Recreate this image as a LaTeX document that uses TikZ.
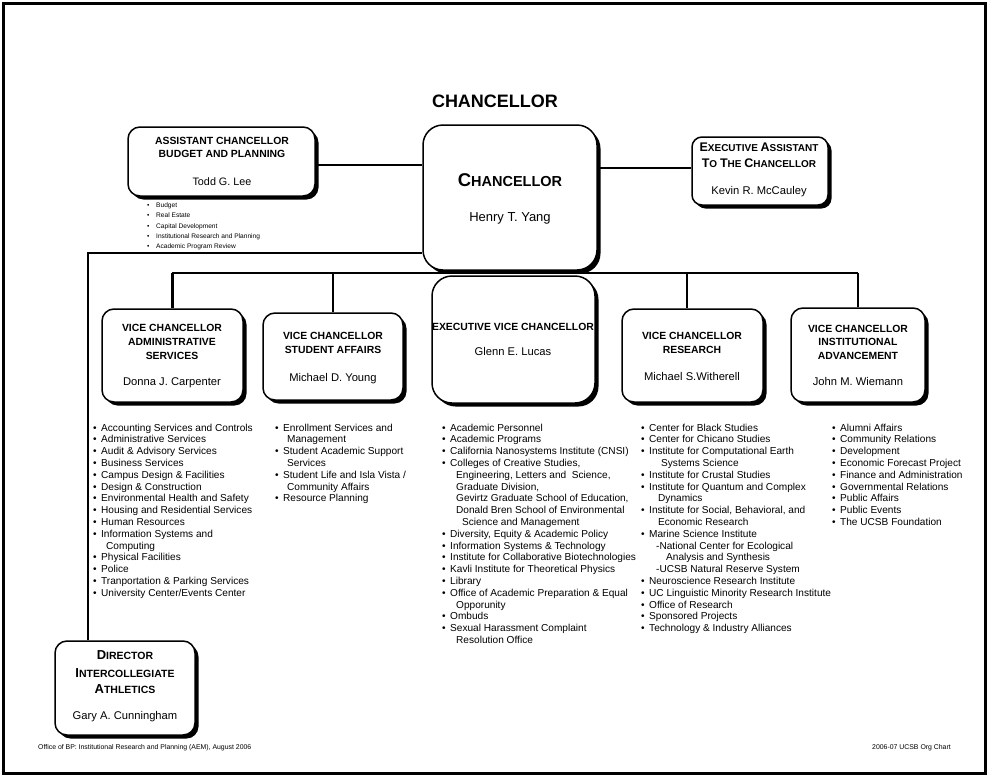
\documentclass[tikz,border=0pt]{standalone}
\usepackage{fontspec}
\setmainfont{Liberation Sans}
\usetikzlibrary{shadows}
\newcommand{\lbul}[1][8pt]{\makebox[#1][l]{\textbullet}}
\newcommand{\lind}[1]{\hspace*{#1}}
\tikzset{
 box/.style={draw, line width=1.5pt, fill=white, rounded corners=12pt, inner sep=0pt,
   drop shadow={shadow xshift=3.5pt, shadow yshift=-3.5pt, fill=black, opacity=1}},
 conn/.style={line width=2.8pt},
 ttl/.style={font=\fontsize{10.4}{13.8}\selectfont\bfseries, align=center, inner sep=0pt, anchor=north},
 ttlb/.style={font=\bfseries, inner sep=0pt, anchor=base},
 nm/.style={font=\fontsize{11.2}{13}\selectfont, inner sep=0pt, anchor=base},
 lst/.style={font=\fontsize{10.1}{11.8}\selectfont, align=left, inner sep=0pt, anchor=north west},
 foot/.style={font=\fontsize{6.9}{7.5}\selectfont, inner sep=0pt},
}
\begin{document}
\begin{tikzpicture}[x=1pt,y=-1pt]
\useasboundingbox (0,0) rectangle (989,777);
\draw[line width=3pt] (3.5,3.5) rectangle (985.5,773.5);

% main title
\node[ttlb, font=\fontsize{18}{20}\selectfont\bfseries] (maintitle) at (495,107.5) {CHANCELLOR};

% connector coordinates
\coordinate (busL) at (172,273);
\coordinate (busR) at (858,273);
\coordinate (resT) at (687,273);
\coordinate (ac) at (0,165);
\coordinate (ce) at (0,168);
\coordinate (dc) at (88,253);

% boxes
\node[box, minimum width=187pt, minimum height=69pt] (asst) at (221.5,161.5) {};
\node[box, rounded corners=20pt, minimum width=174pt, minimum height=145pt] (chan) at (510,197.5) {};
\node[box, rounded corners=10pt, minimum width=136pt, minimum height=68pt] (exec) at (760,171) {};
\node[box, minimum width=141pt, minimum height=93pt] (admin) at (172.5,355.5) {};
\node[box, minimum width=140pt, minimum height=87pt] (stud) at (333,356.5) {};
\node[box, rounded corners=20pt, minimum width=163pt, minimum height=127pt] (evc) at (513.5,339.5) {};
\node[box, minimum width=141pt, minimum height=93pt] (res) at (692.5,355.5) {};
\node[box, minimum width=134pt, minimum height=94pt] (inst) at (858,355) {};
\node[box, minimum width=140pt, minimum height=94pt] (dir) at (125,688) {};

% connectors
\draw[conn] (busL) -- (busR);
\draw[conn] (admin.north) -- (admin.north |- busL);
\draw[conn] (stud.north) -- (stud.north |- busL);
\draw[conn] (resT) -- (resT |- res.north);
\draw[conn] (inst.north) -- (inst.north |- busR);
\draw[conn] (asst.east |- ac) -- (chan.west |- ac);
\draw[conn] (chan.east |- ce) -- (exec.west |- ce);
\draw[conn] (chan.west |- dc) -- (dc) -- (dc |- dir.north);

% box texts
\node[ttl, font=\fontsize{10.4}{12.4}\selectfont\bfseries] (asstT) at (222,137.3) {ASSISTANT CHANCELLOR\\BUDGET AND PLANNING};
\node[nm, font=\fontsize{10.8}{13}\selectfont] (asstN) at (222,185.8) {Todd G. Lee};

\node[ttlb] (chanT) at (510,186) {\fontsize{18.5}{20}\selectfont C\fontsize{14.5}{16}\selectfont HANCELLOR};
\node[nm, font=\fontsize{13}{15}\selectfont] (chanN) at (510,221.7) {Henry T. Yang};

\node[ttlb] (execT1) at (759,151) {\fontsize{12.5}{14}\selectfont E\fontsize{10}{12}\selectfont XECUTIVE \fontsize{12.5}{14}\selectfont A\fontsize{10}{12}\selectfont SSISTANT};
\node[ttlb] (execT2) at (759,167) {\fontsize{12.5}{14}\selectfont T\fontsize{10}{12}\selectfont O \fontsize{12.5}{14}\selectfont T\fontsize{10}{12}\selectfont HE \fontsize{12.5}{14}\selectfont C\fontsize{10}{12}\selectfont HANCELLOR};
\node[nm] (execN) at (759,194) {Kevin R. McCauley};

\node[ttl] (adminT) at (172,324.3) {VICE CHANCELLOR\\ADMINISTRATIVE\\SERVICES};
\node[nm] (adminN) at (172,385.5) {Donna J. Carpenter};

\node[ttl] (studT) at (333,332.3) {VICE CHANCELLOR\\STUDENT AFFAIRS};
\node[nm] (studN) at (333,381) {Michael D. Young};

\node[ttlb, font=\fontsize{10.4}{12}\selectfont\bfseries] (evcT) at (513,330.5) {EXECUTIVE VICE CHANCELLOR};
\node[nm] (evcN) at (513,355.5) {Glenn E. Lucas};

\node[ttl] (resT2) at (692,332.3) {VICE CHANCELLOR\\RESEARCH};
\node[nm] (resN) at (692,380.5) {Michael S.Witherell};

\node[ttl] (instT) at (858,324.6) {VICE CHANCELLOR\\INSTITUTIONAL\\ADVANCEMENT};
\node[nm] (instN) at (858,385.7) {John M. Wiemann};

\node[ttlb] (dirT1) at (125,659) {\fontsize{13}{14}\selectfont D\fontsize{10.5}{12}\selectfont IRECTOR};
\node[ttlb] (dirT2) at (125,677) {\fontsize{13}{14}\selectfont I\fontsize{10.5}{12}\selectfont NTERCOLLEGIATE};
\node[ttlb] (dirT3) at (125,693) {\fontsize{13}{14}\selectfont A\fontsize{10.5}{12}\selectfont THLETICS};
\node[nm] (dirN) at (125,719) {Gary A. Cunningham};

% lists
\node[lst, font=\fontsize{6.6}{10.3}\selectfont] (asstL) at (147,202.6) {%
\lbul[9pt]Budget\\
\lbul[9pt]Real Estate\\
\lbul[9pt]Capital Development\\
\lbul[9pt]Institutional Research and Planning\\
\lbul[9pt]Academic Program Review};

\node[lst] (adminL) at (93,423.5) {%
\lbul Accounting Services and Controls\\
\lbul Administrative Services\\
\lbul Audit \& Advisory Services\\
\lbul Business Services\\
\lbul Campus Design \& Facilities\\
\lbul Design \& Construction\\
\lbul Environmental Health and Safety\\
\lbul Housing and Residential Services\\
\lbul Human Resources\\
\lbul Information Systems and\\
\lind{13pt}Computing\\
\lbul Physical Facilities\\
\lbul Police\\
\lbul Tranportation \& Parking Services\\
\lbul University Center/Events Center};

\node[lst] (studL) at (275,423.5) {%
\lbul Enrollment Services and\\
\lind{12pt}Management\\
\lbul Student Academic Support\\
\lind{12pt}Services\\
\lbul Student Life and Isla Vista /\\
\lind{12pt}Community Affairs\\
\lbul Resource Planning};

\node[lst] (evcL) at (442,423.5) {%
\lbul Academic Personnel\\
\lbul Academic Programs\\
\lbul California Nanosystems Institute (CNSI)\\
\lbul Colleges of Creative Studies,\\
\lind{14pt}Engineering, Letters and\ \ Science,\\
\lind{14pt}Graduate Division,\\
\lind{14pt}Gevirtz Graduate School of Education,\\
\lind{14pt}Donald Bren School of Environmental\\
\lind{20pt}Science and Management\\
\lbul Diversity, Equity \& Academic Policy\\
\lbul Information Systems \& Technology\\
\lbul Institute for Collaborative Biotechnologies\\
\lbul Kavli Institute for Theoretical Physics\\
\lbul Library\\
\lbul Office of Academic Preparation \& Equal\\
\lind{14pt}Opporunity\\
\lbul Ombuds\\
\lbul Sexual Harassment Complaint\\
\lind{14pt}Resolution Office};

\node[lst] (resL) at (641,423.5) {%
\lbul Center for Black Studies\\
\lbul Center for Chicano Studies\\
\lbul Institute for Computational Earth\\
\lind{20pt}Systems Science\\
\lbul Institute for Crustal Studies\\
\lbul Institute for Quantum and Complex\\
\lind{17pt}Dynamics\\
\lbul Institute for Social, Behavioral, and\\
\lind{17pt}Economic Research\\
\lbul Marine Science Institute\\
\lind{15pt}-National Center for Ecological\\
\lind{25pt}Analysis and Synthesis\\
\lind{15pt}-UCSB Natural Reserve System\\
\lbul Neuroscience Research Institute\\
\lbul UC Linguistic Minority Research Institute\\
\lbul Office of Research\\
\lbul Sponsored Projects\\
\lbul Technology \& Industry Alliances};

\node[lst] (instL) at (832,423.5) {%
\lbul Alumni Affairs\\
\lbul Community Relations\\
\lbul Development\\
\lbul Economic Forecast Project\\
\lbul Finance and Administration\\
\lbul Governmental Relations\\
\lbul Public Affairs\\
\lbul Public Events\\
\lbul The UCSB Foundation};

% footer
\node[foot, anchor=base west] (footL) at (38,749) {Office of BP: Institutional Research and Planning (AEM), August 2006};
\node[foot, anchor=base east] (footR) at (951,749) {2006-07 UCSB Org Chart};
\end{tikzpicture}
\end{document}
